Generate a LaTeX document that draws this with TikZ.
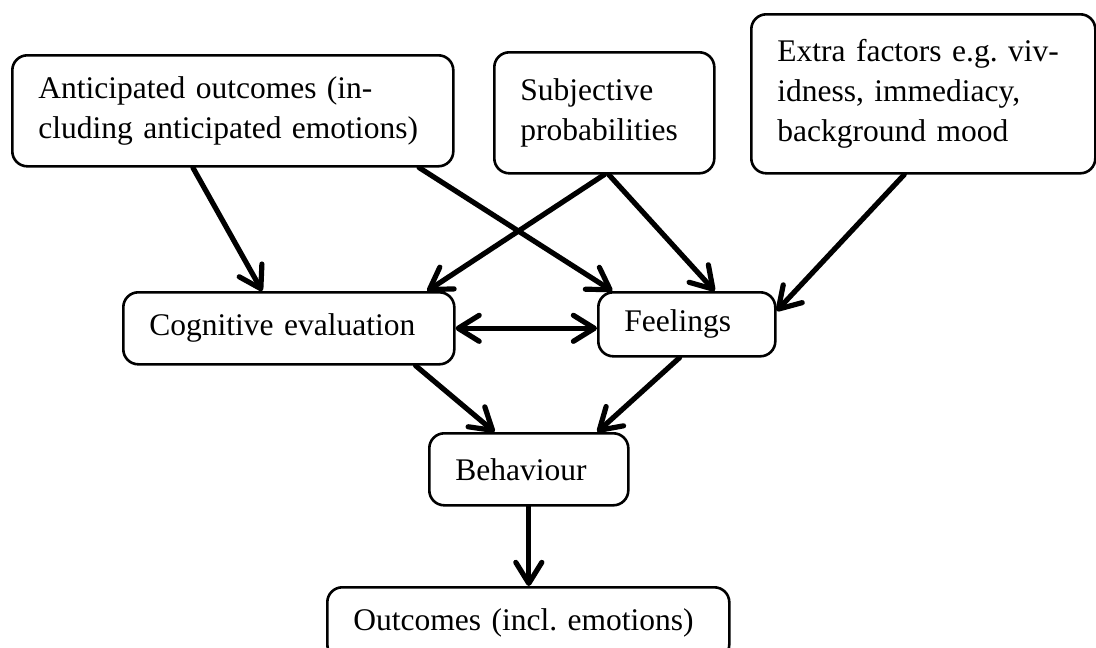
\documentclass[tikz,border=0pt]{standalone}
\usepackage{fontspec}
\setmainfont{Liberation Serif}
\usepackage{tikz}
\usetikzlibrary{arrows.meta, calc}
\tikzstyle{basefont}=[font=\fontsize{31.5}{40}\selectfont\frenchspacing]
\tikzstyle{box}=[basefont, draw, line width=2.6pt, rounded corners=15pt, align=left, anchor=north west, inner xsep=26pt, inner ysep=0pt]
\tikzstyle{barb}=[line width=5.2pt, line cap=round]
\tikzstyle{arrow}=[barb, -{Straight Barb[round, length=21pt, width=26pt]}]
\tikzstyle{twoway}=[barb, {Straight Barb[round, length=21pt, width=26pt]}-{Straight Barb[round, length=21pt, width=26pt]}]
\begin{document}
\begin{tikzpicture}[x=1pt, y=-1pt]
	% Page size; the last box runs off the bottom
	\useasboundingbox (0,0) rectangle (1096,648);
	\clip (0,0) rectangle (1096,648);

	% Top row
	\node[box, text width=389pt, minimum height=111pt] (ant) at (11,54)
		{Anticipated outcomes (in-\\cluding anticipated emotions)};
	\node[box, text width=168pt, minimum height=121pt] (sub) at (493,51)
		{Subjective\\probabilities};
	\node[box, text width=292pt, minimum height=159pt] (extra) at (750,13)
		{Extra factors e.g. viv-\\idness, immediacy,\\background mood};

	% Middle and bottom
	\node[box, text width=279pt, minimum height=72pt] (cog) at (122,291) {Cognitive evaluation};
	\node[box, text width=125pt, minimum height=64pt] (feel) at (597,291) {Feelings};
	\node[box, text width=147pt, minimum height=72pt] (beh) at (428,432) {Behaviour};
	\node[box, text width=350pt, minimum height=72pt] (out) at (326,586) {Outcomes (incl. emotions)};

	% Arrows from the bottom of one box to the top of another
	\foreach \from/\fa/\to/\ta in {
		ant/0.41/cog/0.42,
		ant/0.92/feel/0.085,
		sub/0.50/cog/0.915,
		sub/0.52/feel/0.655,
		cog/0.88/beh/0.33,
		feel/0.46/beh/0.84
	}{
		\draw[arrow] ($(\from.south west)!\fa!(\from.south east)$)
			-- ($(\to.north west)!\ta!(\to.north east)$);
	}
	\draw[arrow] ($(extra.south west)!0.445!(extra.south east)$)
		-- ($(feel.north east)!0.3!(feel.south east)$);
	\draw[twoway] (cog.east) -- (cog.east -| feel.west);
	\draw[arrow] (beh.south) -- (beh.south |- out.north);
\end{tikzpicture}
\end{document}
